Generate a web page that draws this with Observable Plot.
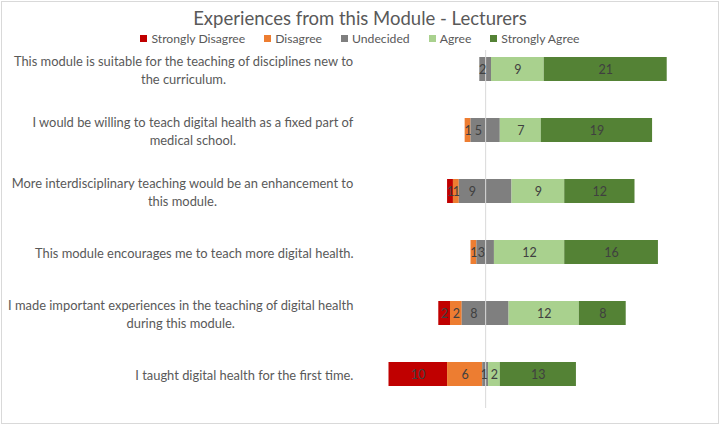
<!DOCTYPE html>
<html><head><meta charset="utf-8">
<script src="https://cdn.jsdelivr.net/npm/d3@7"></script>
<script src="https://cdn.jsdelivr.net/npm/@observablehq/plot@0.6"></script>
<style>
body{margin:0;background:#fff;font-family:Lato,sans-serif;}
#wrap{position:relative;width:720px;height:425px;overflow:hidden;background:#fff;}
#frame{position:absolute;left:1px;top:1px;width:716px;height:421px;border:1px solid #d9d9d9;pointer-events:none;}
#title{position:absolute;left:0;width:720px;top:6px;text-align:center;font-size:18.5px;color:#595959;line-height:24px;}
#legend{position:absolute;left:0;width:720px;top:30px;display:flex;justify-content:center;}
#chart{position:absolute;left:0;top:0;}
.lg-swatches{font-family:Lato,sans-serif !important;font-size:12.2px !important;color:#595959 !important;min-height:16px !important;margin:0 !important;}
.lg-swatch{margin-right:19px !important;}
.lg-swatch:last-child{margin-right:0 !important;}
.lg-swatch svg{margin-right:4px !important;}
</style>
</head><body>
<div id="wrap">
  <div id="chart"></div>
  <div id="title">Experiences from this Module - Lecturers</div>
  <div id="legend"></div>
  <div id="frame"></div>
</div>
<script>
const questions = [
  "This module is suitable for the teaching of disciplines new to\nthe curriculum.",
  "I would be willing to teach digital health as a fixed part of\nmedical school.",
  "More interdisciplinary teaching would be an enhancement to\nthis module.",
  "This module encourages me to teach more digital health.",
  "I made important experiences in the teaching of digital health\nduring this module.",
  "I taught digital health for the first time."
];
const categories = ["Strongly Disagree", "Disagree", "Undecided", "Agree", "Strongly Agree"];
const colors = ["#C00000", "#ED7D31", "#7F7F7F", "#A9D18E", "#548235"];
const stronglyDisagree = [0, 0, 1, 0, 2, 10];
const disagree = [0, 1, 1, 1, 2, 6];
const undecided = [2, 5, 9, 3, 8, 1];
const agree = [9, 7, 9, 12, 12, 2];
const stronglyAgree = [21, 19, 12, 16, 8, 13];

const W = 720, H = 425;
const xDomain = [-20, 36];
const mL = 368, mR = 24, mT = 50, mB = 17;
const labelFont = 12.9;
const labelRight = 353;

// segments (undecided split evenly around zero, label on left half only)
const segs = [];
questions.forEach((q, i) => {
  const vals = [stronglyDisagree[i], disagree[i], undecided[i], agree[i], stronglyAgree[i]];
  let x = -(vals[2] / 2 + vals[1] + vals[0]);
  const push = (ci, w, val, show) => { segs.push({q, cat: categories[ci], x1: x, x2: x + w, val, show}); x += w; };
  push(0, vals[0], vals[0], true);
  push(1, vals[1], vals[1], true);
  push(2, vals[2] / 2, vals[2], true);
  push(2, vals[2] / 2, vals[2], false);
  push(3, vals[3], vals[3], true);
  push(4, vals[4], vals[4], true);
});

// category labels: lines centered on each other, block right-aligned
const ctx = document.createElement("canvas").getContext("2d");
ctx.font = `${labelFont}px Lato`;
const xs = d3.scaleLinear(xDomain, [mL, W - mR]);
const labelData = questions.map(q => {
  const wmax = d3.max(q.split("\n"), l => ctx.measureText(l).width);
  return {q, xc: xs.invert(labelRight - wmax / 2)};
});

const chart = Plot.plot({
  width: W, height: H,
  marginLeft: mL, marginRight: mR, marginTop: mT, marginBottom: mB,
  style: {fontFamily: "Lato, sans-serif", background: "transparent", overflow: "visible"},
  x: {domain: xDomain, axis: null},
  y: {domain: questions, axis: null, paddingInner: 0.6, paddingOuter: 0.206, align: 0.25},
  color: {domain: categories, range: colors},
  marks: [
    Plot.rectX(segs.filter(d => d.x2 > d.x1), {x1: "x1", x2: "x2", y: "q", fill: "cat"}),
    Plot.ruleX([0], {stroke: "#d9d9d9", strokeWidth: 1}),
    Plot.text(segs.filter(d => d.show && d.val > 0), {x: d => (d.x1 + d.x2) / 2, y: "q", text: d => String(d.val), fill: "#404040", fontSize: 12.5}),
    Plot.text(labelData, {x: "xc", y: "q", text: "q", textAnchor: "middle", lineHeight: 1.33, fontSize: labelFont, fill: "#595959"})
  ]
});
document.getElementById("chart").appendChild(chart);

const legend = Plot.legend({color: {domain: categories, range: colors}, swatchSize: 7, className: "lg"});
document.getElementById("legend").appendChild(legend);
</script>
</body></html>
